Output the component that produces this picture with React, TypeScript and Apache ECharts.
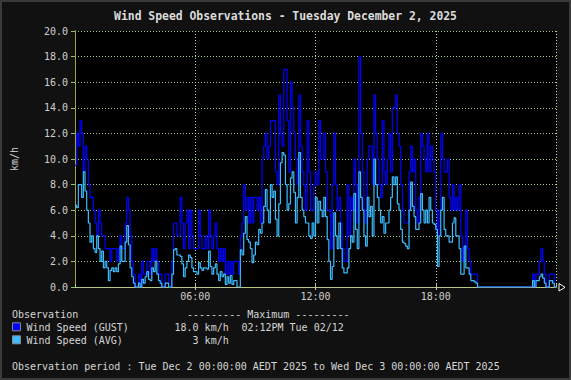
import React, { useEffect, useRef } from "react";
import * as echarts from "echarts";

// Sampling interval of the observations (minutes)
const SAMPLE_MINUTES = 5;

// Wind gust (km/h), one value per 5 minutes from 00:00 to 24:00
const gustKmh = [
  9.5, 12, 11, 13, 12, 9, 11, 10, 8, 7, 7, 6,
  5, 4, 6, 5, 4, 4, 3, 3, 3, 2, 3, 3,
  3, 2, 3, 4, 3, 3, 5, 7, 6, 4, 2, 1,
  0, 0, 1, 0, 2, 1, 1, 2, 2, 1, 3, 2,
  3, 2, 1, 1, 0, 0, 1, 1, 0, 0, 2, 5,
  5, 4, 4, 7, 5, 3, 5, 6, 3, 6, 4, 3,
  3, 3, 6, 4, 3, 3, 4, 3, 6, 4, 3, 4,
  5, 3, 2, 3, 2, 3, 1, 2, 1, 2, 1, 2,
  2, 2, 1, 4, 5, 8, 6, 7, 5, 7, 5, 7,
  7, 6, 7, 5, 10, 11, 12, 10, 11, 13, 13, 13,
  9, 8, 15, 12, 11, 17, 17, 13, 9, 16, 14, 12,
  10, 8, 15, 11, 9, 8, 6, 13, 9, 6, 6, 8,
  9, 8, 13, 10, 10, 12, 9, 6, 6, 3, 8, 12,
  8, 6, 7, 5, 3, 2, 2, 8, 4, 7, 6, 10,
  8, 5, 18, 12, 9, 6, 5, 10, 11, 11, 8, 15,
  12, 10, 8, 7, 13, 9, 8, 10, 12, 9, 14, 14,
  15, 12, 11, 8, 6, 5, 5, 5, 9, 11, 9, 10,
  6, 5, 7, 12, 11, 10, 9, 12, 9, 11, 10, 9,
  6, 4, 6, 12, 10, 9, 9, 10, 7, 6, 8, 6,
  7, 6, 8, 4, 2, 3, 6, 3, 2, 1, 1, 1,
  1, 0, 0, 0, 0, 0, 0, 0, 0, 0, 0, 0,
  0, 0, 0, 0, 0, 0, 0, 0, 0, 0, 0, 0,
  0, 0, 0, 0, 0, 0, 0, 0, 0, 0, 1, 0,
  1, 1, 2, 3, 2, 1, 0, 0, 1, 1, 1, 0,
  0,
];

// Average wind speed (km/h), same sampling
const avgKmh = [
  6.4, 6.2, 8, 8, 7, 9, 7.5, 6, 5, 3.5, 4, 3,
  2.7, 4, 3, 2, 2.8, 1.5, 2, 1.5, 0.5, 1.3, 1.5, 1.2,
  1.5, 1.2, 1.8, 3.2, 2, 2, 3.5, 4.8, 3.3, 1.5, 0.8, 0.3,
  0, 0, 0.3, 0, 0.6, 0.3, 0.8, 1.2, 0.6, 0.5, 1.5, 1.2,
  2, 1, 0.5, 0.3, 0, 0, 0.3, 0.3, 0, 0, 1, 2.9,
  3, 2.5, 2.5, 2.4, 1.8, 0.8, 1.5, 2, 2.5, 2.3, 1.5, 1.2,
  1.2, 1, 1.9, 1.5, 1.3, 1.5, 1.5, 1.4, 2.8, 1.6, 1, 1.5,
  1.8, 1, 0.5, 1.2, 0.8, 1, 0.2, 0.8, 0.3, 0.9, 0.2, 0.5,
  0.5, 0, 0, 2.9, 2.5, 4.2, 5.5, 3.7, 3.5, 3, 1.9, 2.5,
  3.5, 3.3, 4.5, 4.2, 5, 6.3, 7.6, 6, 5, 8, 7, 7.5,
  5.3, 4, 6.5, 9.7, 10.5, 10.3, 8, 6, 6.5, 8.5, 9, 7.4,
  5, 7, 10.5, 7, 6, 5.5, 5, 5, 4, 3.8, 5, 4,
  7, 5, 6.7, 6, 5.5, 7, 5.5, 3.7, 2, 0.6, 1.6, 5.8,
  4, 3, 5, 3, 1.5, 1.1, 1.1, 1.5, 3, 4, 3.5, 7.3,
  4.5, 3, 9, 7, 6, 4, 3.2, 7, 5.5, 6.3, 4, 10,
  8, 7, 6, 5, 5.5, 4.2, 5, 5, 6, 7, 8.6, 8,
  8.6, 6.5, 6, 4.5, 3.5, 3.4, 3.2, 3, 6, 8.2, 6.3, 5.5,
  4.5, 4.5, 5, 7.3, 6, 5, 6, 5, 7, 6, 5, 4.9,
  4.5, 1.6, 4, 6, 7, 4.5, 4, 4, 3.5, 3.5, 5, 5.4,
  4, 4, 3, 1, 1, 3.2, 1.5, 1.5, 1, 0.5, 0.5, 0.4,
  0.3, 0, 0, 0, 0, 0, 0, 0, 0, 0, 0, 0,
  0, 0, 0, 0, 0, 0, 0, 0, 0, 0, 0, 0,
  0, 0, 0, 0, 0, 0, 0, 0, 0, 0, 0.5, 0,
  0.5, 0.5, 0.8, 1, 0.7, 0.3, 0, 0, 0.5, 0.5, 0.3, 0,
  0,
];

const xTickMinutes = [360, 720, 1080];
const xTickLabels = ["06:00", "12:00", "18:00"];

const seriesNames = ["Wind Speed (GUST)", "Wind Speed (AVG)"];
const seriesColors = ["#0000ff", "#3cbcff"];
const maxValues = ["18.0 km/h", "3 km/h"];
const maxTimes = ["02:12PM Tue 02/12", ""];

const TITLE = "Wind Speed Observations - Tuesday December 2, 2025";
const PERIOD =
  "Observation period : Tue Dec 2 00:00:00 AEDT 2025 to Wed Dec 3 00:00:00 AEDT 2025";

const MONO = '"DejaVu Sans Mono", "Liberation Mono", monospace';
const TXT = "#d6d6d6";

export default function App() {
  const ref = useRef<HTMLDivElement>(null);

  useEffect(() => {
    if (!ref.current) return;
    const chart = echarts.init(ref.current, undefined, { renderer: "svg" });

    const toPairs = (arr: number[]) =>
      arr.map((v, i) => [i * SAMPLE_MINUTES, v]);

    const legendGraphics: any[] = [];
    const rowY = [327.3, 340.3];
    seriesNames.forEach((name, k) => {
      legendGraphics.push({
        type: "rect",
        shape: { x: 12.5, y: rowY[k] - 4.5, width: 8, height: 8 },
        style: { fill: seriesColors[k], stroke: "#8a8a8a", lineWidth: 1 },
      });
      legendGraphics.push({
        type: "text",
        x: 26.5,
        y: rowY[k],
        style: { text: name, fill: TXT, font: `10px ${MONO}`, verticalAlign: "middle" },
      });
      legendGraphics.push({
        type: "text",
        x: 228.7,
        y: rowY[k],
        style: { text: maxValues[k], fill: TXT, font: `10px ${MONO}`, align: "right", verticalAlign: "middle" },
      });
      if (maxTimes[k]) {
        legendGraphics.push({
          type: "text",
          x: 241.4,
          y: rowY[k],
          style: { text: maxTimes[k], fill: TXT, font: `10px ${MONO}`, verticalAlign: "middle" },
        });
      }
    });

    const option: any = {
      animation: false,
      backgroundColor: "#111111",
      title: {
        text: TITLE,
        left: "center",
        top: 5,
        textStyle: { color: "#dcdcdc", fontFamily: MONO, fontSize: 11.4, fontWeight: "bold" },
      },
      grid: {
        left: 75,
        top: 31,
        width: 481,
        height: 256,
        show: true,
        backgroundColor: "#000000",
        borderWidth: 0,
      },
      xAxis: [
        {
          type: "value",
          min: 0,
          max: 1440,
          interval: 360,
          axisLine: { show: true, lineStyle: { color: "#c8c8c8", width: 1 } },
          axisTick: { show: true, length: 3, lineStyle: { color: "#c8c8c8" } },
          axisLabel: {
            showMinLabel: false,
            showMaxLabel: false,
            color: "#cfcfcf",
            fontFamily: MONO,
            fontSize: 10,
            margin: 4,
            formatter: (v: number) => {
              const idx = xTickMinutes.indexOf(v);
              return idx >= 0 ? xTickLabels[idx] : "";
            },
          },
          splitLine: { show: true, lineStyle: { color: "#c4d6b4", type: [1, 2], width: 1 } },
        },
        {
          type: "value",
          position: "top",
          min: 0,
          max: 1440,
          interval: 360,
          axisLine: { show: true, lineStyle: { color: "#b4c87c", type: [2, 1], width: 1 } },
          axisTick: { show: true, length: 3, lineStyle: { color: "#b4c87c" } },
          axisLabel: { show: false },
          splitLine: { show: false },
        },
      ],
      yAxis: [
        {
          type: "value",
          min: 0,
          max: 20,
          interval: 2,
          name: "km/h",
          nameLocation: "middle",
          nameRotate: 90,
          nameGap: 56,
          nameTextStyle: { color: "#cfcfcf", fontFamily: MONO, fontSize: 10 },
          axisLine: { show: true, lineStyle: { color: "#a8d890", width: 1 } },
          axisTick: { show: true, length: 4, lineStyle: { color: "#a8d890" } },
          axisLabel: {
            color: "#cfcfcf",
            fontFamily: MONO,
            fontSize: 10,
            margin: 7,
            formatter: (v: number) => v.toFixed(1),
          },
          splitLine: { show: true, lineStyle: { color: "#a0c880", type: [1, 2], width: 1 } },
        },
        {
          type: "value",
          position: "right",
          min: 0,
          max: 20,
          interval: 2,
          axisLine: { show: true, lineStyle: { color: "#a0a040", width: 1 } },
          axisTick: { show: true, inside: true, length: 4, lineStyle: { color: "#90c070" } },
          axisLabel: { show: false },
          splitLine: { show: false },
        },
      ],
      series: [
        {
          name: seriesNames[0],
          type: "line",
          step: "end",
          showSymbol: false,
          symbol: "none",
          data: toPairs(gustKmh),
          lineStyle: { color: seriesColors[0], width: 1.2 },
          itemStyle: { color: seriesColors[0] },
          z: 2,
        },
        {
          name: seriesNames[1],
          type: "line",
          step: "end",
          showSymbol: false,
          symbol: "none",
          data: toPairs(avgKmh),
          lineStyle: { color: seriesColors[1], width: 1.2 },
          itemStyle: { color: seriesColors[1] },
          z: 3,
        },
      ],
      graphic: [
        {
          type: "rect",
          shape: { x: 1, y: 1, width: 569, height: 378 },
          style: { fill: "none", stroke: "#3a3a3a", lineWidth: 2 },
          silent: true,
        },
        {
          type: "polygon",
          shape: { points: [[559, 283.5], [565, 287.3], [559, 291]] },
          style: { fill: "#000", stroke: "#ffffff", lineWidth: 1 },
        },
        {
          type: "text",
          x: 12,
          y: 314.3,
          style: { text: "Observation", fill: TXT, font: `10px ${MONO}`, verticalAlign: "middle" },
        },
        {
          type: "text",
          x: 187,
          y: 314.3,
          style: { text: "--------- Maximum ---------", fill: TXT, font: `10px ${MONO}`, verticalAlign: "middle" },
        },
        ...legendGraphics,
        {
          type: "text",
          x: 12,
          y: 366.3,
          style: { text: PERIOD, fill: TXT, font: `10px ${MONO}`, verticalAlign: "middle" },
        },
      ],
    };

    chart.setOption(option);
    return () => chart.dispose();
  }, []);

  return (
    <div
      ref={ref}
      style={{ position: "fixed", left: 0, top: 0, width: 571, height: 380 }}
    />
  );
}
